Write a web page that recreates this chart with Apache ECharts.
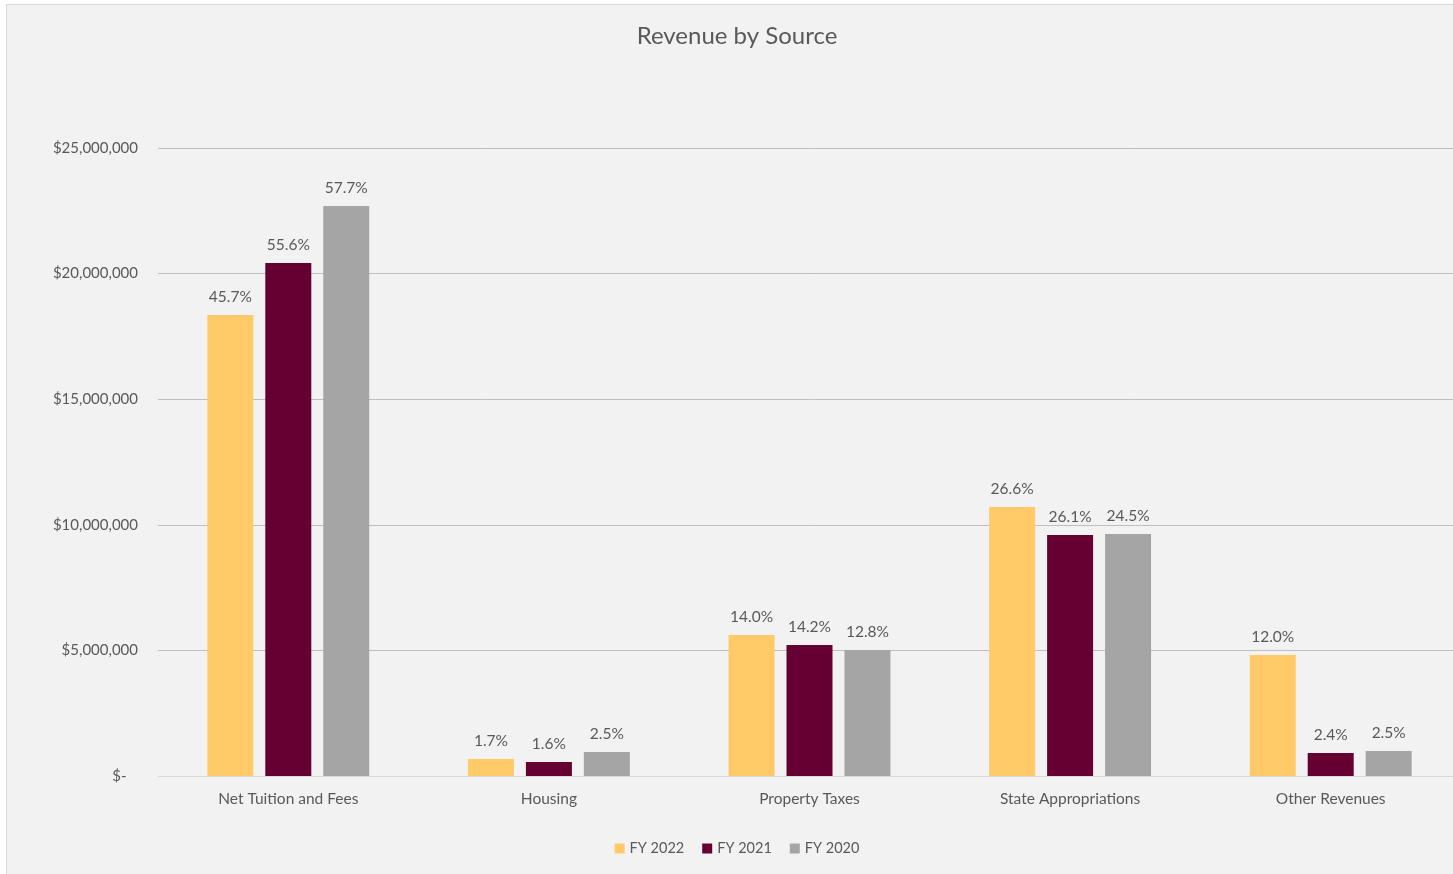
<!DOCTYPE html>
<html>
<head>
<meta charset="utf-8">
<script src="https://cdn.jsdelivr.net/npm/echarts@6/dist/echarts.min.js"></script>
<style>
  html, body { margin: 0; padding: 0; background: #ffffff; overflow: hidden; width: 1453px; height: 874px; }
  #frame { position: absolute; left: 6px; top: 4px; width: 1460px; height: 880px; border: 1px solid #d9d9d9; background: #f2f2f2; }
  #chart { width: 1460px; height: 880px; }
</style>
</head>
<body>
<div id="frame"><div id="chart"></div></div>
<script>
const categories = ['Net Tuition and Fees', 'Housing', 'Property Taxes', 'State Appropriations', 'Other Revenues'];
const seriesNames = ['FY 2022', 'FY 2021', 'FY 2020'];
const fy2022 = [18350000, 680000, 5610000, 10710000, 4820000];
const fy2021 = [20420000, 560000, 5210000, 9590000, 920000];
const fy2020 = [22690000, 960000, 5020000, 9630000, 1000000];
const pct2022 = ['45.7%', '1.7%', '14.0%', '26.6%', '12.0%'];
const pct2021 = ['55.6%', '1.6%', '14.2%', '26.1%', '2.4%'];
const pct2020 = ['57.7%', '2.5%', '12.8%', '24.5%', '2.5%'];
const yTicks = { min: 0, max: 25000000, interval: 5000000 };

const fontFamily = 'Lato, "Open Sans", sans-serif';
const textColor = '#595959';
const colors = ['#FFCA67', '#660033', '#A5A5A5'];

function moneyLabel(v) {
  if (v === 0) return '$-   ';
  return '$' + v.toLocaleString('en-US');
}

function makeSeries(name, data, pcts, color) {
  return {
    name: name,
    type: 'bar',
    data: data,
    barWidth: 46,
    barGap: '26%',
    itemStyle: { color: color },
    label: {
      show: true,
      position: 'top',
      distance: 10,
      color: textColor,
      fontFamily: fontFamily,
      fontSize: 15.5,
      formatter: function (p) { return pcts[p.dataIndex]; }
    }
  };
}

const chart = echarts.init(document.getElementById('chart'), null, { renderer: 'canvas' });
chart.setOption({
  backgroundColor: 'transparent',
  animation: false,
  color: colors,
  title: {
    text: 'Revenue by Source',
    left: 'center',
    top: 14,
    textStyle: { color: textColor, fontFamily: fontFamily, fontSize: 24, fontWeight: 'normal' }
  },
  legend: {
    bottom: 24,
    left: 'center',
    itemWidth: 10,
    itemHeight: 10,
    itemGap: 18,
    icon: 'rect',
    textStyle: { color: textColor, fontFamily: fontFamily, fontSize: 14.5 },
    data: seriesNames
  },
  grid: { left: 151, top: 143, height: 628, width: 1303, containLabel: false },
  xAxis: {
    type: 'category',
    data: categories,
    axisLine: { lineStyle: { color: '#d9d9d9', width: 1 } },
    axisTick: { show: false },
    axisLabel: { color: textColor, fontFamily: fontFamily, fontSize: 15.5, margin: 15 }
  },
  yAxis: {
    type: 'value',
    min: yTicks.min,
    max: yTicks.max,
    interval: yTicks.interval,
    axisLine: { show: false },
    axisTick: { show: false },
    splitLine: { lineStyle: { color: '#bfbfbf', width: 1 } },
    axisLabel: { color: textColor, fontFamily: fontFamily, fontSize: 15, margin: 20, formatter: moneyLabel }
  },
  series: [
    makeSeries(seriesNames[0], fy2022, pct2022, colors[0]),
    makeSeries(seriesNames[1], fy2021, pct2021, colors[1]),
    makeSeries(seriesNames[2], fy2020, pct2020, colors[2])
  ]
});
</script>
</body>
</html>
